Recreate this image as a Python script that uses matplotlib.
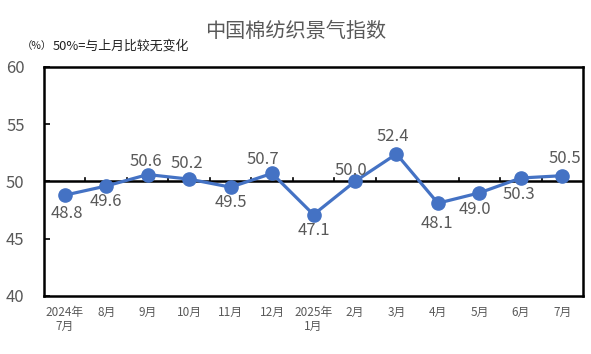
import matplotlib
matplotlib.use("Agg")
import matplotlib.pyplot as plt

plt.rcParams['font.family'] = ['Noto Sans CJK SC', 'DejaVu Sans']

# Data
months = ['2024年\n7月', '8月', '9月', '10月', '11月', '12月', '2025年\n1月',
          '2月', '3月', '4月', '5月', '6月', '7月']
values = [48.8, 49.6, 50.6, 50.2, 49.5, 50.7, 47.1, 50.0, 52.4, 48.1, 49.0, 50.3, 50.5]

# label offsets from the point, in pixels (dx, dy; positive dy = below)
label_offsets = [(2, 18), (0, 15), (-2, -13), (-2, -16), (0, 15), (-9, -14), (0, 16),
                 (-4, -11), (-4, -17), (-1, 20), (-4, 17), (-2, 17), (3, -17)]

line_color = '#4472C4'
text_color = '#595959'

fig = plt.figure(figsize=(5.91, 3.54), dpi=100)
ax = fig.add_axes([0.0745, 0.164, 0.912, 0.647])

x = list(range(len(values)))
ax.plot(x, values, color=line_color, linewidth=2.3, marker='o',
        markersize=9.5, zorder=3)

# reference line at 50 with category ticks
ax.axhline(50, color='black', linewidth=1.8, zorder=2)
for i in range(1, len(values)):
    ax.plot([i - 0.5, i - 0.5], [50, 50.3], color='black', linewidth=1.2, zorder=2)

px = 72 / 100
for xi, v, (dx, dy) in zip(x, values, label_offsets):
    t = ax.annotate(f'{v:.1f}', (xi, v), xytext=(dx * px, -dy * px),
                    textcoords='offset points', ha='center', va='center',
                    fontsize=12, color=text_color, zorder=4)
    t.set_clip_on(True)

ax.set_xlim(-0.5, len(values) - 0.5)
ax.set_ylim(40, 60)
ax.set_yticks([40, 45, 50, 55, 60])
ax.set_xticks(x)
ax.set_xticklabels(months, fontsize=8.5, color=text_color, linespacing=1.1)
ax.tick_params(axis='x', length=0, pad=7)
ax.tick_params(axis='y', direction='in', length=4, width=1.2, labelsize=12,
               labelcolor=text_color, pad=14)
for sp in ax.spines.values():
    sp.set_linewidth(1.8)
    sp.set_color('black')

fig.text(0.5, 0.91, '中国棉纺织景气指数', ha='center', va='center',
         fontsize=14.5, color=text_color)
fig.text(22 / 591, 1 - 46 / 354, '（%）', ha='left', va='center',
         fontsize=7.5, color='#222222')
fig.text(53 / 591, 1 - 46 / 354, '50%=与上月比较无变化', ha='left', va='center',
         fontsize=9.3, color='#222222')

fig.savefig('out.png', dpi=100)
